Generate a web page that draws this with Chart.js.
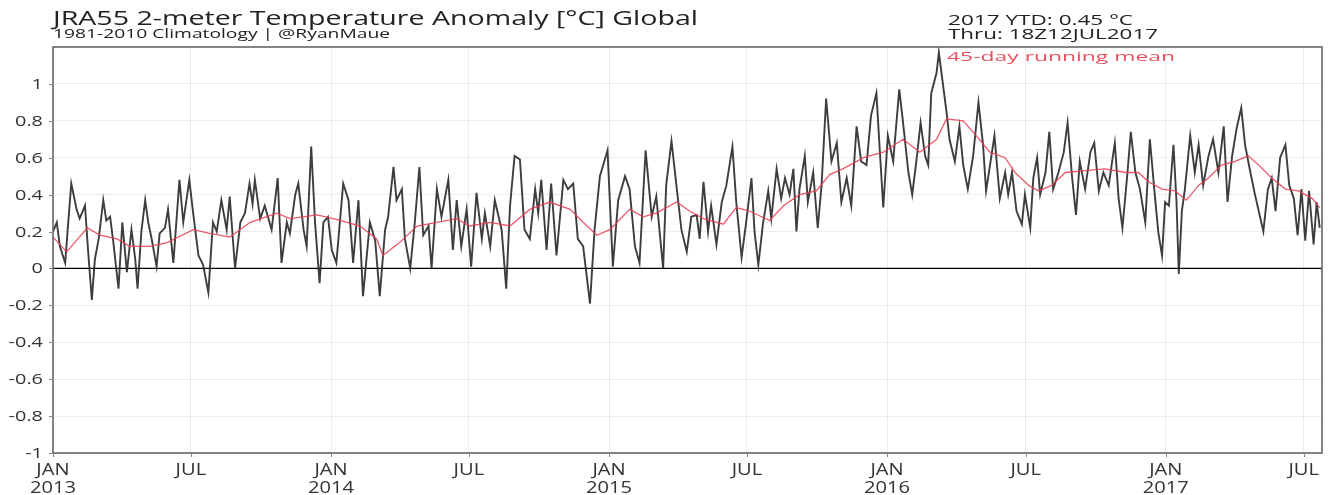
<!DOCTYPE html>
<html>
<head>
<meta charset="utf-8">
<script src="https://cdn.jsdelivr.net/npm/chart.js@4/dist/chart.umd.min.js"></script>
<style>
html,body{margin:0;padding:0;background:#fff;}
#wrap{width:1344px;height:495px;}
</style>
</head>
<body>
<div id="wrap"><canvas id="c" width="1344" height="495"></canvas></div>
<script>
// ---- data (days since 1 Jan 2013) ----
const dailyDays = [0,5,9,16,20,24,31,35,42,46,51,55,60,66,70,75,79,86,91,97,103,108,111,116,121,125,130,136,140,147,151,158,166,171,179,184,191,197,204,210,215,221,228,232,239,246,252,258,262,265,272,278,287,295,300,307,311,318,322,329,333,339,344,350,355,361,366,372,381,388,394,401,407,416,
423,429,436,440,447,451,458,462,469,475,481,486,493,497,504,510,519,525,530,536,543,549,556,563,567,574,580,589,595,600,606,613,619,626,633,637,641,648,654,661,670,676,683,689,696,705,711,718,728,735,742,751,757,764,770,778,786,792,801,805,812,819,825,832,838,
845,849,854,860,864,871,878,884,892,897,904,910,917,921,926,932,939,943,950,956,961,967,972,976,980,987,991,998,1004,1009,1015,1022,1029,1035,1042,1048,1055,1061,1068,1074,1081,1085,1090,1096,1103,1111,1116,1123,1128,1134,1139,1145,1149,1153,1160,1163,1168,1173,1177,1184,1190,1195,1201,1208,1215,1221,1225,1232,1236,1243,1250,
1254,1259,1265,1272,1276,1283,1287,1292,1296,1303,1308,1313,1320,1327,1332,1338,1343,1348,1355,1362,1367,1373,1379,1386,1394,1399,1404,1410,1415,1421,1427,1434,1440,1446,1451,1456,1460,1465,1471,1475,1478,1482,1486,1493,1499,1504,1510,1517,1523,1530,1537,1542,1548,1554,1560,1565,1572,1578,1583,1589,1595,1600,1605,1611,1618,1623,1629,1634,1639,1644,1649,1655,1659,1663];
const dailyAnom = [0.20,0.25,0.12,0.03,0.25,0.46,0.32,0.27,0.34,0.10,-0.17,0.05,0.16,0.37,0.26,0.28,0.15,-0.11,0.25,-0.02,0.21,0.05,-0.11,0.20,0.37,0.25,0.15,0.01,0.19,0.22,0.32,0.03,0.48,0.25,0.48,0.30,0.07,0.02,-0.13,0.25,0.20,0.37,0.21,0.39,0.00,0.25,0.30,0.46,0.35,0.48,0.27,0.34,0.21,0.49,0.03,0.25,0.19,0.40,0.46,0.21,0.12,0.66,0.25,-0.08,0.25,0.28,0.10,0.03,0.46,0.37,0.03,0.37,-0.15,0.25,
0.15,-0.15,0.21,0.28,0.55,0.37,0.43,0.16,0.00,0.25,0.55,0.18,0.23,0.00,0.43,0.28,0.48,0.10,0.37,0.12,0.32,0.01,0.41,0.16,0.30,0.12,0.37,0.21,-0.11,0.34,0.61,0.59,0.21,0.16,0.43,0.30,0.48,0.10,0.46,0.07,0.48,0.43,0.46,0.16,0.12,-0.19,0.21,0.50,0.64,0.01,0.37,0.50,0.43,0.12,0.03,0.64,0.28,0.39,0.00,0.45,0.69,0.43,0.21,0.09,0.28,
0.29,0.16,0.47,0.20,0.34,0.13,0.36,0.45,0.66,0.36,0.06,0.25,0.49,0.20,0.02,0.24,0.42,0.27,0.54,0.38,0.49,0.40,0.54,0.20,0.43,0.61,0.36,0.52,0.22,0.45,0.92,0.58,0.68,0.36,0.49,0.34,0.77,0.58,0.56,0.83,0.95,0.67,0.33,0.72,0.58,0.97,0.79,0.52,0.40,0.60,0.79,0.61,0.56,0.95,1.06,1.17,1.01,0.85,0.70,0.58,0.77,0.56,0.43,0.61,0.90,0.67,0.42,0.61,0.72,0.38,0.52,
0.40,0.52,0.31,0.24,0.40,0.22,0.49,0.60,0.40,0.52,0.74,0.43,0.52,0.63,0.79,0.49,0.29,0.58,0.43,0.63,0.68,0.42,0.52,0.45,0.68,0.38,0.22,0.49,0.74,0.52,0.43,0.25,0.70,0.42,0.20,0.07,0.36,0.34,0.67,0.36,-0.03,0.31,0.43,0.72,0.52,0.67,0.45,0.61,0.70,0.52,0.77,0.36,0.61,0.76,0.87,0.67,0.52,0.40,0.31,0.20,0.43,0.49,0.31,0.60,0.67,0.45,0.38,0.18,0.43,0.15,0.42,0.13,0.36,0.22];

const meanDays = [0,18,45,62,84,101,127,150,184,206,232,259,294,311,347,377,403,425,433,455,478,504,530,547,574,600,626,652,679,696,714,731,757,775,792,819,836,854,880,897,915,941,959,980,1002,1020,1037,1064,1090,1116,1138,1160,1173,1195,1212,1230,1250,1263,1281,1294,1311,1329,1355,1381,1408,1425,1438,1456,1473,1488,1504,1517,1534,1552,1569,1583,1600,1618,1635,1653,1663];
const meanAnom = [0.17,0.09,0.22,0.18,0.16,0.12,0.12,0.14,0.21,0.19,0.17,0.25,0.30,0.27,0.29,0.26,0.23,0.16,0.07,0.14,0.23,0.25,0.27,0.23,0.25,0.23,0.32,0.36,0.32,0.25,0.18,0.21,0.32,0.28,0.30,0.36,0.31,0.27,0.24,0.33,0.31,0.26,0.34,0.40,0.42,0.51,0.54,0.60,0.63,0.70,0.63,0.70,0.81,0.80,0.72,0.63,0.60,0.52,0.45,0.42,0.45,0.52,0.53,0.54,0.52,0.52,0.47,0.43,0.42,0.37,0.45,0.49,0.56,0.58,0.61,0.56,0.49,0.43,0.42,0.38,0.33];

const xTickDays = [0,181,365,546,730,911,1095,1277,1461,1642];
const xTickLabels = [["JAN","2013"],["JUL"],["JAN","2014"],["JUL"],["JAN","2015"],["JUL"],["JAN","2016"],["JUL"],["JAN","2017"],["JUL"]];
const yTickVals = [-1,-0.8,-0.6,-0.4,-0.2,0,0.2,0.4,0.6,0.8,1];
const yTickLabels = ["-1","-0.8","-0.6","-0.4","-0.2","0","0.2","0.4","0.6","0.8","1"];

const titleText = "JRA55 2-meter Temperature Anomaly [°C] Global";
const subText = "1981-2010 Climatology | @RyanMaue";
const ytdText = "2017 YTD: 0.45 °C";
const thruText = "Thru: 18Z12JUL2017";
const meanLabel = "45-day running mean";

const FONT = "'Open Sans', 'DejaVu Sans', sans-serif";

function fitText(ctx, text, x, y, size, color, targetW, align, prefix) {
  ctx.font = size + "px " + FONT;
  const w = ctx.measureText(prefix || text).width;
  const sx = targetW / w;
  ctx.save();
  ctx.translate(x, y);
  ctx.scale(sx, 1);
  ctx.textAlign = align || 'left';
  ctx.textBaseline = 'alphabetic';
  ctx.fillStyle = color;
  ctx.fillText(text, 0, 0);
  ctx.restore();
}

const decor = {
  id: 'decor',
  beforeDatasetsDraw(chart) {
    const ctx = chart.ctx, ys = chart.scales.y, a = chart.chartArea;
    const y0 = ys.getPixelForValue(0);
    ctx.save();
    ctx.strokeStyle = '#000';
    ctx.lineWidth = 1.2;
    ctx.beginPath(); ctx.moveTo(a.left, y0); ctx.lineTo(a.right, y0); ctx.stroke();
    ctx.restore();
  },
  afterDraw(chart) {
    const ctx = chart.ctx, a = chart.chartArea, xs = chart.scales.x, ys = chart.scales.y;
    ctx.save();
    ctx.strokeStyle = '#666';
    ctx.lineWidth = 1.6;
    ctx.strokeRect(a.left, a.top, a.right - a.left, a.bottom - a.top);
    ctx.strokeStyle = '#888';
    ctx.lineWidth = 1;
    yTickVals.forEach(v => {
      const py = Math.round(ys.getPixelForValue(v)) + 0.5;
      ctx.beginPath(); ctx.moveTo(a.left - 4, py); ctx.lineTo(a.left, py); ctx.stroke();
    });
    xTickDays.forEach(d => {
      const px = Math.round(xs.getPixelForValue(d)) + 0.5;
      ctx.beginPath(); ctx.moveTo(px, a.bottom); ctx.lineTo(px, a.bottom + 4); ctx.stroke();
    });
    ctx.font = "14px " + FONT;
    const sy = 28 / ctx.measureText("0.8").width;
    yTickVals.forEach((v, i) => {
      const py = ys.getPixelForValue(v);
      ctx.save();
      ctx.translate(43, py + 5);
      ctx.scale(sy, 1);
      ctx.textAlign = 'right';
      ctx.fillStyle = '#333';
      ctx.fillText(yTickLabels[i], 0, 0);
      ctx.restore();
    });
    ctx.font = "17px " + FONT;
    const sxx = 46 / ctx.measureText("2014").width;
    xTickDays.forEach((d, i) => {
      const px = xs.getPixelForValue(d);
      xTickLabels[i].forEach((line, j) => {
        ctx.save();
        ctx.translate(px, 475 + j * 18);
        ctx.scale(sxx, 1);
        ctx.textAlign = 'center';
        ctx.fillStyle = '#333';
        ctx.fillText(line, 0, 0);
        ctx.restore();
      });
    });
    fitText(ctx, titleText, 53, 25, 20, '#222', 397, 'left', "JRA55 2-meter Temperature A");
    fitText(ctx, subText, 53, 37.5, 12, '#222', 337, 'left');
    fitText(ctx, ytdText, 948, 25, 15, '#222', 185, 'left');
    fitText(ctx, thruText, 948, 39, 15, '#222', 210, 'left');
    fitText(ctx, meanLabel, 947, 60.5, 13, '#e8505f', 228, 'left');
    ctx.restore();
  }
};

new Chart(document.getElementById('c'), {
  type: 'line',
  data: {
    datasets: [
      {
        label: 'Daily anomaly',
        data: dailyDays.map((d, i) => ({x: d, y: dailyAnom[i]})),
        borderColor: 'rgba(45,45,45,0.92)',
        borderWidth: 1.9,
        pointRadius: 0,
        tension: 0,
        order: 2
      },
      {
        label: meanLabel,
        data: meanDays.map((d, i) => ({x: d, y: meanAnom[i]})),
        borderColor: 'rgba(232,60,80,0.85)',
        borderWidth: 1.3,
        pointRadius: 0,
        tension: 0,
        order: 1
      }
    ]
  },
  options: {
    responsive: false,
    animation: false,
    events: [],
    layout: {padding: {top: 47, right: 22, left: 0, bottom: 0}},
    plugins: {legend: {display: false}, tooltip: {enabled: false}},
    scales: {
      x: {
        type: 'linear',
        min: 0,
        max: 1666,
        afterBuildTicks: s => { s.ticks = xTickDays.map(v => ({value: v})); },
        afterFit: s => { s.height = 42; },
        ticks: {display: false},
        border: {display: false},
        grid: {color: 'rgba(0,0,0,0.07)', lineWidth: 1, drawTicks: false},
      },
      y: {
        type: 'linear',
        min: -1,
        max: 1.2,
        afterBuildTicks: s => { s.ticks = yTickVals.map(v => ({value: v})); },
        afterFit: s => { s.width = 53; },
        ticks: {display: false},
        border: {display: false},
        grid: {color: 'rgba(0,0,0,0.07)', lineWidth: 1, drawTicks: false},
      }
    }
  },
  plugins: [decor]
});
</script>
</body>
</html>
